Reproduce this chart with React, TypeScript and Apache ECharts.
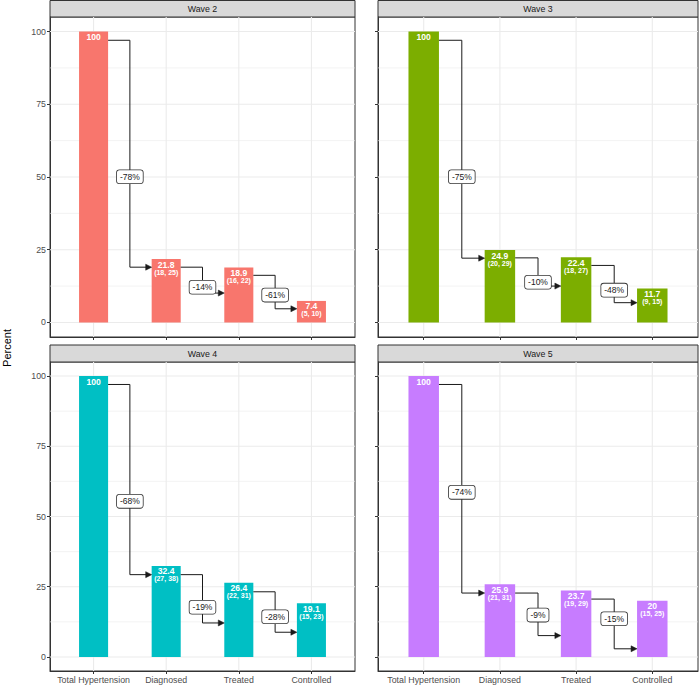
import React, { useEffect, useRef } from "react";
import * as echarts from "echarts";

const categories = ["Total Hypertension", "Diagnosed", "Treated", "Controlled"];
const waveNames = ["Wave 2", "Wave 3", "Wave 4", "Wave 5"];
const waveColors = ["#F8766D", "#7CAE00", "#00BFC4", "#C77CFF"];

const wave2Values = [100, 21.8, 18.9, 7.4];
const wave3Values = [100, 24.9, 22.4, 11.7];
const wave4Values = [100, 32.4, 26.4, 19.1];
const wave5Values = [100, 25.9, 23.7, 20];

const wave2CI = ["", "(18, 25)", "(16, 22)", "(5, 10)"];
const wave3CI = ["", "(20, 29)", "(18, 27)", "(9, 15)"];
const wave4CI = ["", "(27, 38)", "(22, 31)", "(15, 23)"];
const wave5CI = ["", "(21, 31)", "(19, 29)", "(15, 25)"];

const wave2Change = ["-78%", "-14%", "-61%"];
const wave3Change = ["-75%", "-10%", "-48%"];
const wave4Change = ["-68%", "-19%", "-28%"];
const wave5Change = ["-74%", "-9%", "-15%"];

// arrow levels (percent scale)
const wave2ArrowFrom = [97, 19.0, 16.2];
const wave2ArrowTo = [19.0, 10.1, 4.7];
const wave2LabelY = [50.1, 12.1, 9.4];

const wave3ArrowFrom = [97, 22.2, 19.6];
const wave3ArrowTo = [22.1, 12.5, 6.8];
const wave3LabelY = [50.1, 13.8, 11.1];

const wave4ArrowFrom = [97, 29.3, 23.2];
const wave4ArrowTo = [29.3, 12.1, 8.8];
const wave4LabelY = [55.4, 17.7, 14.3];

const wave5ArrowFrom = [97, 22.75, 20.6];
const wave5ArrowTo = [22.75, 7.6, 2.9];
const wave5LabelY = [58.6, 14.9, 13.6];

const yMajorTicks = [0, 25, 50, 75, 100];
const yMinorTicks = [12.5, 37.5, 62.5, 87.5];
const xTicks = [1, 2, 3, 4];

const values = [wave2Values, wave3Values, wave4Values, wave5Values];
const cis = [wave2CI, wave3CI, wave4CI, wave5CI];
const changes = [wave2Change, wave3Change, wave4Change, wave5Change];
const arrowFrom = [wave2ArrowFrom, wave3ArrowFrom, wave4ArrowFrom, wave5ArrowFrom];
const arrowTo = [wave2ArrowTo, wave3ArrowTo, wave4ArrowTo, wave5ArrowTo];
const labelYs = [wave2LabelY, wave3LabelY, wave4LabelY, wave5LabelY];

const FONT = "'Liberation Sans', Arial, Helvetica, sans-serif";

const panels = [
  { left: 50, top: 17, width: 305, height: 320, stripTop: 0.5, showX: false, showY: true },
  { left: 378, top: 17, width: 320, height: 320, stripTop: 0.5, showX: false, showY: false },
  { left: 50, top: 362, width: 305, height: 309, stripTop: 345, showX: true, showY: true },
  { left: 378, top: 362, width: 320, height: 309, stripTop: 345, showX: true, showY: false },
];

function textStyle(extra: any) {
  return Object.assign(
    { align: "center", verticalAlign: "middle", textAlign: "center", textVerticalAlign: "middle" },
    extra
  );
}

function buildOption() {
  const grid: any[] = [];
  const xAxis: any[] = [];
  const yAxis: any[] = [];
  const series: any[] = [];
  const graphic: any[] = [];

  panels.forEach((p, k) => {
    grid.push({
      left: p.left,
      top: p.top,
      width: p.width,
      height: p.height,
      show: true,
      backgroundColor: "#FFFFFF",
      borderColor: "#333333",
      borderWidth: 1,
    });
    xAxis.push({
      gridIndex: k,
      type: "value",
      min: 0.4,
      max: 4.6,
      axisLine: { show: true, onZero: false, lineStyle: { color: "#333333", width: 1 } },
      axisTick: { show: true, length: 3, customValues: xTicks, lineStyle: { color: "#333333", width: 1 } },
      axisLabel: {
        show: p.showX,
        customValues: xTicks,
        formatter: (v: number) => categories[Math.round(v) - 1] || "",
        color: "#4D4D4D",
        fontSize: 8.8,
        fontFamily: FONT,
        margin: 4,
      },
      splitLine: { show: false },
    });
    yAxis.push({
      gridIndex: k,
      type: "value",
      min: -5,
      max: 105,
      axisLine: { show: true, onZero: false, lineStyle: { color: "#333333", width: 1 } },
      axisTick: { show: true, length: 3, customValues: yMajorTicks, lineStyle: { color: "#333333", width: 1 } },
      axisLabel: {
        show: p.showY,
        customValues: yMajorTicks,
        color: "#4D4D4D",
        fontSize: 8.8,
        fontFamily: FONT,
        margin: 4,
      },
      splitLine: { show: false },
    });

    // grid lines
    series.push({
      type: "custom",
      xAxisIndex: k,
      yAxisIndex: k,
      z: 1,
      silent: true,
      data: [[1, 0]],
      renderItem: (_params: any, api: any) => {
        const children: any[] = [];
        const xl = api.coord([0.4, 0])[0];
        const xr = api.coord([4.6, 0])[0];
        const yt = api.coord([1, 105])[1];
        const yb = api.coord([1, -5])[1];
        yMinorTicks.forEach((v) => {
          const y = api.coord([1, v])[1];
          children.push({ type: "line", shape: { x1: xl, y1: y, x2: xr, y2: y }, style: { stroke: "#EBEBEB", lineWidth: 0.6 } });
        });
        yMajorTicks.forEach((v) => {
          const y = api.coord([1, v])[1];
          children.push({ type: "line", shape: { x1: xl, y1: y, x2: xr, y2: y }, style: { stroke: "#EBEBEB", lineWidth: 1.1 } });
        });
        xTicks.forEach((v) => {
          const x = api.coord([v, 0])[0];
          children.push({ type: "line", shape: { x1: x, y1: yt, x2: x, y2: yb }, style: { stroke: "#EBEBEB", lineWidth: 1.1 } });
        });
        return { type: "group", children };
      },
    });

    // bars
    const color = waveColors[k];
    const ciList = cis[k];
    series.push({
      type: "custom",
      xAxisIndex: k,
      yAxisIndex: k,
      z: 2,
      data: values[k].map((v, i) => [i + 1, v]),
      renderItem: (params: any, api: any) => {
        const x = api.value(0);
        const v = api.value(1);
        const tl = api.coord([x - 0.2, v]);
        const br = api.coord([x + 0.2, 0]);
        const cx = (tl[0] + br[0]) / 2;
        const children: any[] = [
          {
            type: "rect",
            shape: { x: tl[0], y: tl[1], width: br[0] - tl[0], height: br[1] - tl[1] },
            style: { fill: color },
          },
          {
            type: "text",
            z2: 10,
            style: textStyle({
              text: String(v),
              x: cx,
              y: tl[1] + 5.5,
              fill: "#FFFFFF",
              font: `bold 8.6px ${FONT}`,
            }),
          },
        ];
        const ci = ciList[params.dataIndex];
        if (ci) {
          children.push({
            type: "text",
            z2: 10,
            style: textStyle({
              text: ci,
              x: cx,
              y: tl[1] + 13,
              fill: "#FFFFFF",
              font: `bold 7px ${FONT}`,
            }),
          });
        }
        return { type: "group", children };
      },
    });

    // arrows + change labels
    const chg = changes[k];
    series.push({
      type: "custom",
      xAxisIndex: k,
      yAxisIndex: k,
      z: 3,
      data: arrowFrom[k].map((f, i) => [i + 1, f, arrowTo[k][i], labelYs[k][i]]),
      renderItem: (params: any, api: any) => {
        const i = api.value(0);
        const from = api.value(1);
        const to = api.value(2);
        const ly = api.value(3);
        const p0 = api.coord([i + 0.2, from]);
        const p1 = api.coord([i + 0.5, from]);
        const p2 = api.coord([i + 0.5, to]);
        const p3 = api.coord([i + 0.8, to]);
        const head = 6;
        const lp = api.coord([i + 0.5, ly]);
        return {
          type: "group",
          children: [
            {
              type: "polyline",
              shape: { points: [p0, p1, p2, [p3[0] - head + 1, p3[1]]] },
              style: { stroke: "#1A1A1A", lineWidth: 1, fill: null },
            },
            {
              type: "polygon",
              shape: { points: [[p3[0], p3[1]], [p3[0] - head, p3[1] - 3], [p3[0] - head, p3[1] + 3]] },
              style: { fill: "#1A1A1A", stroke: "#1A1A1A", lineWidth: 0.5 },
            },
            {
              type: "text",
              z2: 10,
              style: textStyle({
                text: chg[params.dataIndex],
                x: lp[0],
                y: lp[1],
                fill: "#1A1A1A",
                font: `8.5px ${FONT}`,
                backgroundColor: "#FFFFFF",
                borderColor: "#333333",
                borderWidth: 0.8,
                borderRadius: 2.5,
                padding: [2, 3, 2, 3],
              }),
            },
          ],
        };
      },
    });

    // strip
    graphic.push({
      type: "rect",
      shape: { x: p.left, y: p.stripTop, width: p.width, height: p.top - p.stripTop },
      style: { fill: "#D9D9D9", stroke: "#333333", lineWidth: 1 },
    });
    graphic.push({
      type: "text",
      x: p.left + p.width / 2,
      y: (p.stripTop + p.top) / 2,
      style: textStyle({ text: waveNames[k], fill: "#1A1A1A", font: `8.8px ${FONT}` }),
    });
  });

  graphic.push({
    type: "text",
    x: 7,
    y: 348,
    rotation: Math.PI / 2,
    style: textStyle({ text: "Percent", fill: "#000000", font: `11px ${FONT}` }),
  });

  return {
    animation: false,
    backgroundColor: "#FFFFFF",
    textStyle: { fontFamily: FONT },
    grid,
    xAxis,
    yAxis,
    series,
    graphic,
  };
}

export default function App() {
  const ref = useRef<HTMLDivElement>(null);
  useEffect(() => {
    if (!ref.current) return;
    const chart = echarts.init(ref.current, undefined, { renderer: "svg" });
    chart.setOption(buildOption() as any);
    return () => chart.dispose();
  }, []);
  return (
    <div
      ref={ref}
      style={{ position: "absolute", left: 0, top: 0, width: 700, height: 685, background: "#fff" }}
    />
  );
}
